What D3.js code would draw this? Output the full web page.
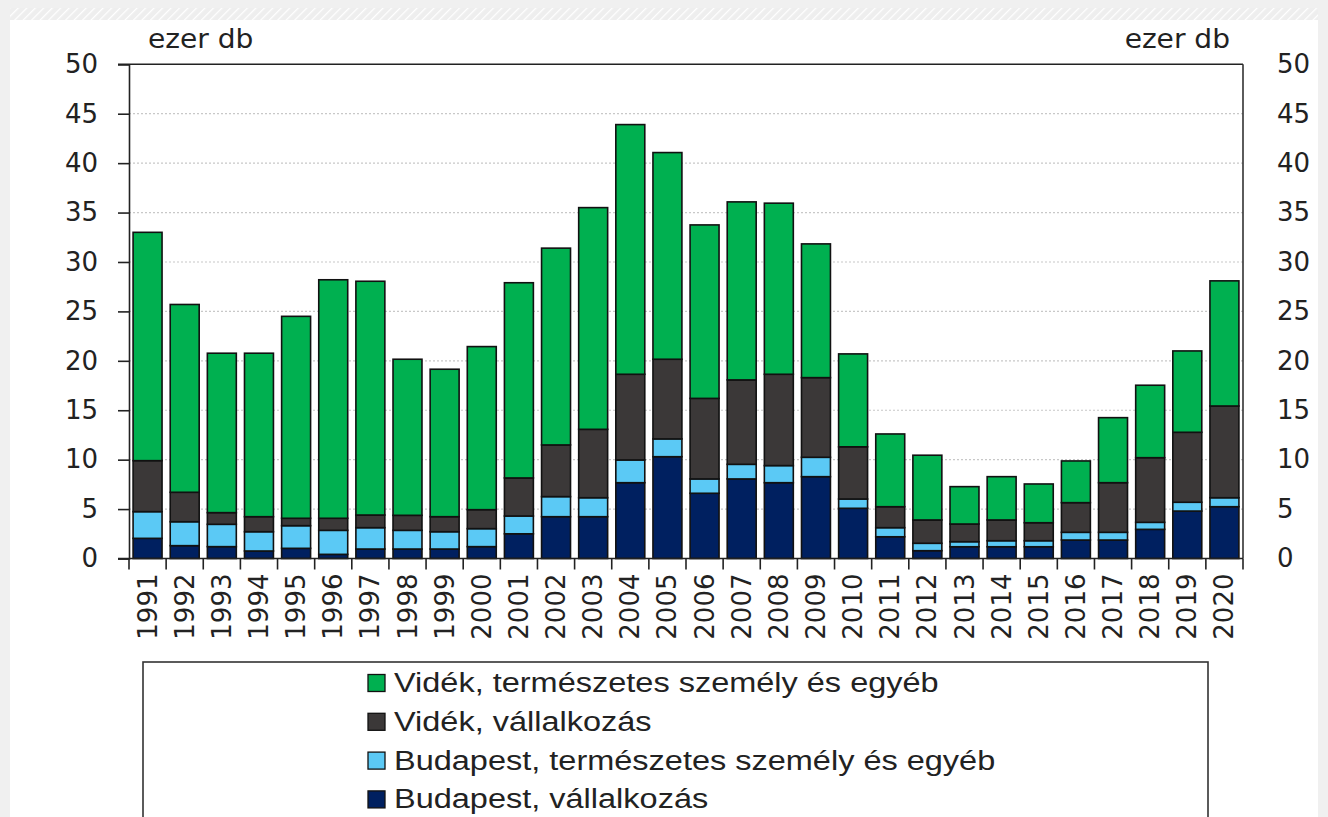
<!DOCTYPE html>
<html><head><meta charset="utf-8">
<script src="https://cdn.jsdelivr.net/npm/d3@7"></script>
<style>body{margin:0;background:#f0f0f0;}svg{display:block;}</style>
</head><body>
<svg id="c" width="1328" height="817"></svg>
<script>
const years = ["1991","1992","1993","1994","1995","1996","1997","1998","1999","2000","2001","2002","2003","2004","2005","2006","2007","2008","2009","2010","2011","2012","2013","2014","2015","2016","2017","2018","2019","2020"];
const bpVallalkozas = [2.04,1.3,1.2,0.76,1.03,0.42,0.96,0.96,0.96,1.2,2.5,4.23,4.23,7.67,10.3,6.6,8.05,7.67,8.28,5.08,2.2,0.79,1.19,1.19,1.19,1.87,1.87,2.95,4.8,5.24];
const bpTermeszetes = [2.7,2.42,2.26,1.95,2.29,2.43,2.16,1.89,1.75,1.82,1.8,2.03,1.92,2.3,1.8,1.45,1.48,1.73,1.96,0.94,0.92,0.75,0.51,0.61,0.61,0.78,0.78,0.71,0.89,0.91];
const videkVallalkozas = [5.16,2.98,1.18,1.52,0.75,1.22,1.28,1.52,1.52,1.92,3.85,5.23,6.92,8.67,8.06,8.15,8.54,9.24,8.06,5.28,2.12,2.36,1.79,2.1,1.82,3.0,5.02,6.54,7.08,9.28];
const videkTermeszetes = [23.1,19.0,16.13,16.54,20.43,24.13,23.65,15.79,14.92,16.5,19.75,19.91,22.43,25.26,20.91,17.55,18.01,17.31,13.53,9.4,7.36,6.55,3.78,4.38,3.92,4.22,6.58,7.33,8.23,12.66];
const yTicks = [0,5,10,15,20,25,30,35,40,45,50];
const unitLabel = "ezer db";
const seriesNames = ["Budapest, vállalkozás","Budapest, természetes személy és egyéb","Vidék, vállalkozás","Vidék, természetes személy és egyéb"];
const seriesColors = ["#002060","#5bc9f5","#3b3838","#00b050"];
const seriesData = [bpVallalkozas,bpTermeszetes,videkVallalkozas,videkTermeszetes];

const svg = d3.select("#c");
const W = 1328, H = 817;
const pLeft = 129, pRight = 1243, pTop = 64.3, pBottom = 558.5;

// background
const defs = svg.append("defs");
const pat = defs.append("pattern").attr("id","hatch").attr("width",6).attr("height",6)
  .attr("patternUnits","userSpaceOnUse").attr("patternTransform","rotate(45)");
pat.append("rect").attr("width",6).attr("height",6).attr("fill","#eeeeee");
pat.append("line").attr("x1",0).attr("y1",0).attr("x2",0).attr("y2",6).attr("stroke","#ffffff").attr("stroke-width",2.5);
svg.append("rect").attr("x",0).attr("y",0).attr("width",W).attr("height",H).attr("fill","#f0f0f0");
svg.append("rect").attr("x",10).attr("y",8).attr("width",W-20).attr("height",12).attr("fill","url(#hatch)");
svg.append("rect").attr("x",10).attr("y",20).attr("width",W-20).attr("height",H-20).attr("fill","#ffffff");

const x = d3.scaleBand().domain(years).range([pLeft,pRight]).paddingInner(0.22).paddingOuter(0.11);
const y = d3.scaleLinear().domain([0,50]).range([pBottom,pTop]);

// grid
svg.append("g").selectAll("line").data(yTicks.filter(t=>t>0 && t<50)).join("line")
  .attr("x1",pLeft).attr("x2",pRight).attr("y1",d=>y(d)).attr("y2",d=>y(d))
  .attr("stroke","#c8c8c8").attr("stroke-width",1.2).attr("stroke-dasharray","2,2");

// stacked bars
const table = years.map((yr,i)=>{const o={year:yr}; seriesNames.forEach((n,k)=>o[n]=seriesData[k][i]); return o;});
const stack = d3.stack().keys(seriesNames)(table);
const bw = x.bandwidth();
svg.append("g").selectAll("g").data(stack).join("g")
  .attr("fill",(d,i)=>seriesColors[i])
  .selectAll("rect").data(d=>d).join("rect")
  .attr("x",d=>x(d.data.year)).attr("width",bw)
  .attr("y",d=>y(d[1])).attr("height",d=>y(d[0])-y(d[1]))
  .attr("stroke","#111").attr("stroke-width",1.6);

// frame: top and right
svg.append("line").attr("x1",118).attr("x2",pRight).attr("y1",pTop).attr("y2",pTop).attr("stroke","#222").attr("stroke-width",1.6);
svg.append("line").attr("x1",pRight).attr("x2",pRight).attr("y1",pTop).attr("y2",pBottom).attr("stroke","#333").attr("stroke-width",1.6);

// left axis
const fontAxis = "'DejaVu Sans', Verdana, sans-serif";
const yAxisL = svg.append("g").attr("transform",`translate(${pLeft},0)`)
  .call(d3.axisLeft(y).tickValues(yTicks).tickSize(11).tickPadding(20).tickFormat(d3.format("d")));
yAxisL.select(".domain").attr("stroke","#222").attr("stroke-width",1.6);
yAxisL.selectAll(".tick line").attr("stroke","#222").attr("stroke-width",1.6);
yAxisL.selectAll("text").attr("font-family",fontAxis).attr("font-size",26).attr("fill","#222");

// right axis labels (no ticks)
const yAxisR = svg.append("g").attr("transform",`translate(${pRight},0)`)
  .call(d3.axisRight(y).tickValues(yTicks).tickSize(0).tickPadding(34).tickFormat(d3.format("d")));
yAxisR.select(".domain").remove();
yAxisR.selectAll("text").attr("font-family",fontAxis).attr("font-size",26).attr("fill","#222");

// bottom axis
const xb = d3.scaleLinear().domain([0,years.length]).range([pLeft,pRight]);
const xAxis = svg.append("g").attr("transform",`translate(0,${pBottom})`);
xAxis.append("line").attr("x1",118).attr("x2",pRight).attr("stroke","#222").attr("stroke-width",1.6);
xAxis.selectAll("line.tk").data(d3.range(years.length+1)).join("line").attr("class","tk")
  .attr("x1",d=>xb(d)).attr("x2",d=>xb(d)).attr("y1",0).attr("y2",11).attr("stroke","#222").attr("stroke-width",1.6);
xAxis.selectAll("text").data(years).join("text")
  .attr("transform",d=>`translate(${x(d)+bw/2+9},15) rotate(-90)`)
  .attr("text-anchor","end").attr("font-family",fontAxis).attr("font-size",26).attr("fill","#222")
  .text(d=>d);

// unit labels
svg.append("text").attr("transform","translate(148,48) scale(1.08,1)").attr("font-family",fontAxis).attr("font-size",26).attr("fill","#222").text(unitLabel);
svg.append("text").attr("transform","translate(1230,48) scale(1.08,1)").attr("text-anchor","end").attr("font-family",fontAxis).attr("font-size",26).attr("fill","#222").text(unitLabel);

// legend
svg.append("rect").attr("x",143).attr("y",662).attr("width",1065).attr("height",200)
  .attr("fill","#fff").attr("stroke","#333").attr("stroke-width",1.6);
const legOrder = [3,2,1,0];
const lg = svg.append("g");
legOrder.forEach((k,i)=>{
  const cy = 683 + i*38.8;
  lg.append("rect").attr("x",368).attr("y",cy-8.5).attr("width",17).attr("height",17)
    .attr("fill",seriesColors[k]).attr("stroke","#111").attr("stroke-width",1.3);
  lg.append("text").attr("class","lt").attr("data-cy",cy)
    .attr("font-family","'Liberation Sans Narrow','Liberation Sans',Arial,sans-serif").attr("font-size",27).attr("fill","#222")
    .text(seriesNames[k]);
});
const texts = lg.selectAll("text.lt").nodes();
const w0 = texts[0].getComputedTextLength();
const sx = 545 / w0;
texts.forEach(n=>{
  const cy = +n.getAttribute("data-cy");
  d3.select(n).attr("transform",`translate(394,${cy+9}) scale(${sx},1)`);
});
</script>
</body></html>
